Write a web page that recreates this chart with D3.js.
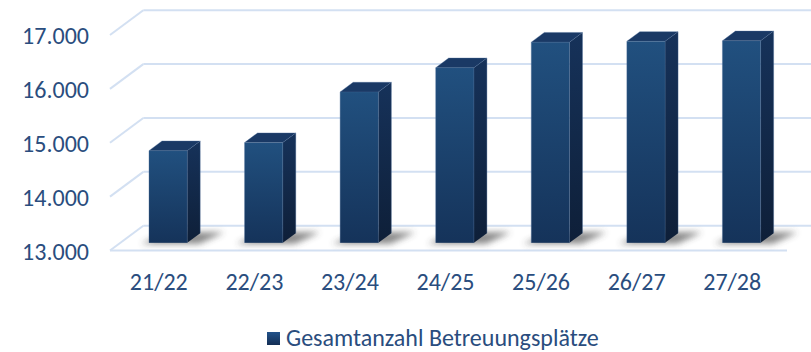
<!DOCTYPE html>
<html>
<head>
<meta charset="utf-8">
<script src="https://cdn.jsdelivr.net/npm/d3@7"></script>
<style>
  html, body { margin: 0; padding: 0; background: #fff; }
  svg { display: block; font-family: Carlito, "Open Sans", "Noto Sans", sans-serif; }
</style>
</head>
<body>
<svg id="chart" width="811" height="352"></svg>
<script>
// Data: total childcare places per school year
const years = ["21/22", "22/23", "23/24", "24/25", "25/26", "26/27", "27/28"];
const places = [14710, 14860, 15800, 16250, 16725, 16740, 16750];
const yTicks = [13000, 14000, 15000, 16000, 17000];
const seriesName = "Gesamtanzahl Betreuungsplätze";

const svg = d3.select("#chart");
const W = 811;
const fontSize = 24;

// Oblique 3D projection: depth offset of the back wall relative to the front plane
const D = { x: 33.3, y: -24.8 };
const z0 = 0.31, z1 = 0.70;           // bar depth extent (0 = front, 1 = back)

const y = d3.scaleLinear().domain([13000, 17000]).range([250.5, 35]);
const x = d3.scaleBand().domain(years).range([110, 779])
  .paddingInner(0.6).paddingOuter(0.3);

const fmt = d3.formatLocale({ decimal: ",", thousands: ".", grouping: [3], currency: ["", "€"] }).format(",d");

const textColor = "#2a4d7e";
const gridColor = "#d3e0f2";

const defs = svg.append("defs");
const gFront = defs.append("linearGradient").attr("id", "gFront").attr("x1", 0).attr("y1", 0).attr("x2", 0).attr("y2", 1);
gFront.append("stop").attr("offset", 0).attr("stop-color", "#21507f");
gFront.append("stop").attr("offset", 1).attr("stop-color", "#15335a");
const gSide = defs.append("linearGradient").attr("id", "gSide").attr("x1", 0).attr("y1", 0).attr("x2", 0).attr("y2", 1);
gSide.append("stop").attr("offset", 0).attr("stop-color", "#16325a");
gSide.append("stop").attr("offset", 1).attr("stop-color", "#0e1f38");
const gLeg = defs.append("linearGradient").attr("id", "gLeg").attr("x1", 0).attr("y1", 0).attr("x2", 0).attr("y2", 1);
gLeg.append("stop").attr("offset", 0).attr("stop-color", "#22528a");
gLeg.append("stop").attr("offset", 1).attr("stop-color", "#142f55");
defs.append("filter").attr("id", "soft").attr("x", "-50%").attr("y", "-100%").attr("width", "200%").attr("height", "300%")
  .append("feGaussianBlur").attr("stdDeviation", 3);

// Gridlines: back wall horizontals and left wall diagonals
const x0 = x.range()[0];
const grid = svg.append("g").attr("stroke", gridColor).attr("stroke-width", 2).attr("fill", "none");
yTicks.forEach(t => {
  grid.append("line").attr("x1", x0 + D.x).attr("y1", y(t) + D.y).attr("x2", W + 10).attr("y2", y(t) + D.y);
  grid.append("line").attr("x1", x0).attr("y1", y(t)).attr("x2", x0 + D.x).attr("y2", y(t) + D.y);
});
// Front edge of the floor
grid.append("line").attr("x1", x0).attr("y1", y(13000)).attr("x2", x.range()[1] + 8).attr("y2", y(13000));

// Y axis tick labels
svg.append("g").selectAll("text").data(yTicks).join("text")
  .attr("x", 89).attr("y", d => y(d) + 9)
  .attr("text-anchor", "end").attr("fill", textColor).attr("font-size", fontSize)
  .text(d => fmt(d));

// Category labels
svg.append("g").selectAll("text").data(years).join("text")
  .attr("x", d => x(d) + x.bandwidth() / 2 + 1).attr("y", 290)
  .attr("text-anchor", "middle").attr("fill", textColor).attr("font-size", fontSize)
  .text(d => d);

const base = y.domain()[0];
const bars = years.map((c, i) => {
  const L = x(c), R = x(c) + x.bandwidth();
  return {
    c, v: places[i],
    fl: L + z0 * D.x, fr: R + z0 * D.x, bl: L + z1 * D.x, br: R + z1 * D.x,
    ft: y(places[i]) + z0 * D.y, bt: y(places[i]) + z1 * D.y,
    fb: y(base) + z0 * D.y, bb: y(base) + z1 * D.y
  };
});

// Soft floor shadows
svg.append("g").selectAll("polygon").data(bars).join("polygon")
  .attr("points", b => [[b.fl - 8, b.fb + 1], [b.fr + 12, b.fb + 1], [b.br + 24, b.bb - 1], [b.bl + 6, b.bb - 1]].join(" "))
  .attr("fill", "#3a3a3a").attr("opacity", 0.6).attr("filter", "url(#soft)");

// 3D bars
const gb = svg.append("g").selectAll("g").data(bars).join("g");
gb.append("polygon")
  .attr("points", b => [[b.fr, b.ft], [b.br, b.bt], [b.br, b.bb], [b.fr, b.fb]].join(" "))
  .attr("fill", "url(#gSide)");
gb.append("polygon")
  .attr("points", b => [[b.fl, b.ft], [b.bl, b.bt], [b.br, b.bt], [b.fr, b.ft]].join(" "))
  .attr("fill", "#1a3965");
gb.append("rect")
  .attr("x", b => b.fl).attr("y", b => b.ft)
  .attr("width", b => b.fr - b.fl).attr("height", b => b.fb - b.ft)
  .attr("fill", "url(#gFront)");
gb.append("path")
  .attr("d", b => `M${b.fl},${b.fb}V${b.ft}L${b.bl},${b.bt}H${b.br}V${b.bb}M${b.fl},${b.ft}H${b.fr}V${b.fb}M${b.fr},${b.ft}L${b.br},${b.bt}`)
  .attr("fill", "none").attr("stroke", "#4a6b96").attr("stroke-opacity", 0.45).attr("stroke-width", 0.8);

// Legend
const leg = svg.append("g");
leg.append("rect").attr("x", 267).attr("y", 332).attr("width", 13).attr("height", 13).attr("fill", "url(#gLeg)");
leg.append("text").attr("x", 286).attr("y", 346).attr("fill", textColor).attr("font-size", fontSize).text(seriesName);
</script>
</body>
</html>
